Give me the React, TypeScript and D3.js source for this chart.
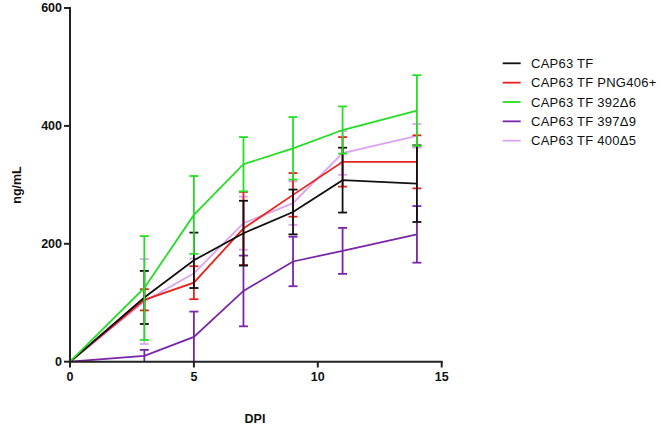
import React from "react";
import * as d3 from "d3";

const days = [0, 3, 5, 7, 9, 11, 14];
const seriesNames = ["CAP63 TF", "CAP63 TF PNG406+", "CAP63 TF 392\u03946", "CAP63 TF 397\u03949", "CAP63 TF 400\u03945"];
const seriesColors = ["#111111", "#e8231c", "#25dd25", "#7a26a8", "#dba3f0"];
const meanTF = [0, 109, 172, 218, 254, 308, 302];
const errTF = [0, 45, 47, 55, 38, 55, 65];
const meanPNG = [0, 105, 134, 226, 283, 339, 339];
const errPNG = [0, 18, 28, 62, 37, 42, 45];
const mean392 = [0, 125, 249, 335, 362, 393, 426];
const err392 = [0, 88, 66, 46, 53, 40, 60];
const mean397 = [0, 10, 42, 120, 170, 188, 216];
const err397 = [0, 10, 43, 60, 42, 39, 48];
const mean400 = [0, 102, 150, 235, 269, 354, 383];
const err400 = [0, 72, 25, 45, 37, 37, 20];
const xTicks = [0, 5, 10, 15];
const yTicks = [0, 200, 400, 600];

const means = [meanTF, meanPNG, mean392, mean397, mean400];
const errs = [errTF, errPNG, err392, err397, err400];

export default function App() {
  const W = 661, H = 428;
  const x = d3.scaleLinear().domain([0, 15]).range([70, 441.7]);
  const y = d3.scaleLinear().domain([0, 600]).range([361.7, 8]);
  const line = d3.line<number>().x((_, i) => x(days[i])).y((d) => y(d));
  const axisColor = "#222";
  const font = "Liberation Sans, Arial, sans-serif";
  const drawOrder = [3, 4, 1, 0, 2];
  return (
    <svg width={W} height={H} style={{ position: "absolute", left: 0, top: 0 }} fontFamily={font}>
      <rect width={W} height={H} fill="#fff" />
      {drawOrder.map((s) => (
        <g key={s}>
          {days.map((dd, i) =>
            errs[s][i] > 0 ? (
              <g key={i} stroke={seriesColors[s]} strokeWidth={1.8}>
                <line x1={x(dd)} x2={x(dd)} y1={y(Math.max(0, means[s][i] - errs[s][i]))} y2={y(means[s][i] + errs[s][i])} />
                <line x1={x(dd) - 4.5} x2={x(dd) + 4.5} y1={y(means[s][i] + errs[s][i])} y2={y(means[s][i] + errs[s][i])} />
                {means[s][i] - errs[s][i] > 0 ? (
                  <line x1={x(dd) - 4.5} x2={x(dd) + 4.5} y1={y(means[s][i] - errs[s][i])} y2={y(means[s][i] - errs[s][i])} />
                ) : null}
              </g>
            ) : null
          )}
          <path d={line(means[s]) || ""} fill="none" stroke={seriesColors[s]} strokeWidth={1.8} />
        </g>
      ))}
      {/* axes */}
      <line x1={70} x2={70} y1={7} y2={362.7} stroke={axisColor} strokeWidth={2} />
      <line x1={69} x2={442.7} y1={361.7} y2={361.7} stroke={axisColor} strokeWidth={2} />
      {yTicks.map((t) => (
        <g key={t}>
          <line x1={64} x2={70} y1={y(t)} y2={y(t)} stroke={axisColor} strokeWidth={2} />
          <text x={62} y={y(t)} dy="0.35em" textAnchor="end" fontSize={12.5} fontWeight="bold" fill="#111">{t}</text>
        </g>
      ))}
      {xTicks.map((t) => (
        <g key={t}>
          <line x1={x(t)} x2={x(t)} y1={361.7} y2={367.5} stroke={axisColor} strokeWidth={2} />
          <text x={x(t)} y={381} textAnchor="middle" fontSize={12.5} fontWeight="bold" fill="#111">{t}</text>
        </g>
      ))}
      <text x={255} y={423} textAnchor="middle" fontSize={12.5} fontWeight="bold" fill="#111">DPI</text>
      <text transform="translate(21,185) rotate(-90)" textAnchor="middle" fontSize={12.5} fontWeight="bold" fill="#111">ng/mL</text>
      {/* legend */}
      {seriesNames.map((n, i) => (
        <g key={n} transform={`translate(0, ${63.3 + i * 19.35})`}>
          <line x1={502.7} x2={520.7} y1={0} y2={0} stroke={seriesColors[i]} strokeWidth={1.8} />
          <text x={531} y={0} dy="0.35em" fontSize={13} letterSpacing={0.25} fill="#111">{n}</text>
        </g>
      ))}
    </svg>
  );
}
